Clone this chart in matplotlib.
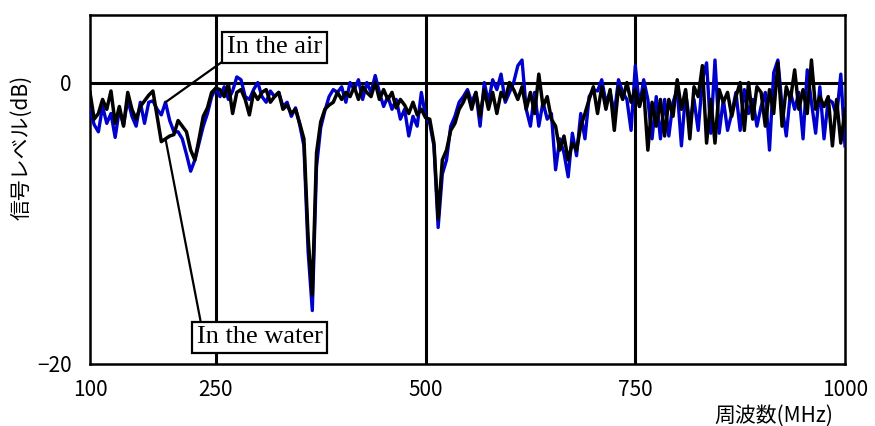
import numpy as np
import matplotlib
matplotlib.use("Agg")
import matplotlib.pyplot as plt

plt.rcParams['font.family'] = ['Noto Sans CJK JP', 'DejaVu Sans']

# Frequency sweep, 5 MHz step
freq = np.arange(100, 1001, 5)

# Signal level in air (dB)
level_air = [
    -1.9, -3.0, -3.5, -1.7, -2.9, -2.2, -3.9, -1.9, -3.0, -1.2,
    -2.4, -3.1, -1.4, -2.9, -1.4, -1.3, -1.9, -2.3, -1.4, -2.7,
    -3.5, -3.5, -4.0, -5.1, -6.3, -5.5, -4.3, -3.1, -2.2, -1.0,
    -0.4, -1.0, -0.3, -1.2, -0.6, 0.4, 0.2, -1.0, -1.2, -0.5,
    0.0, -1.0, -1.4, -0.6, -1.0, -0.7, -1.7, -1.4, -2.4, -1.8,
    -3.0, -4.5, -12.0, -16.2, -6.0, -3.2, -2.0, -1.0, -0.5, -0.7,
    -0.3, -1.4, 0.0, -0.5, 0.2, -1.2, 0.0, -0.7, 0.5, -0.7,
    -1.7, -1.0, -1.9, -1.2, -2.6, -1.9, -3.8, -2.4, -3.1, -0.7,
    -2.4, -2.9, -4.5, -10.3, -6.5, -5.5, -3.1, -2.4, -1.4, -1.0,
    -0.5, -1.4, -0.7, -3.1, 0.0, -1.4, 0.2, -0.5, 0.6, -1.4,
    -0.7, 0.0, 1.2, 1.6, -1.9, -3.1, -0.7, -3.1, -1.4, -2.6,
    -2.2, -6.2, -4.0, -5.0, -6.7, -3.6, -5.2, -2.2, -4.0, -1.0,
    -0.5, -0.6, 0.2, -1.4, -0.7, -2.2, 0.2, -0.7, -1.2, -3.4,
    1.2, -1.7, 0.2, -1.2, -4.0, -1.0, -4.0, -1.2, -3.8, -1.4,
    -0.5, -4.5, -0.7, -2.9, -1.2, -3.4, 0.2, 1.4, -3.6, 1.6,
    -3.6, -1.2, -3.4, -2.2, -0.7, -3.4, -0.5, -2.2, -1.2, -3.1,
    -1.7, -0.7, -4.8, 0.7, 1.6, -1.7, -3.8, -0.7, -1.9, -0.7,
    -4.0, 0.9, -1.4, -3.6, -0.3, -4.0, -1.2, -1.4, -2.4, 0.6,
    -4.5,
]

# Signal level in water (dB)
level_water = [
    -0.7, -2.6, -2.2, -1.2, -1.9, -0.6, -2.9, -1.7, -3.1, -0.7,
    -1.9, -2.6, -1.7, -1.3, -0.9, -0.6, -2.4, -4.2, -4.0, -3.8,
    -3.7, -2.7, -3.1, -3.5, -4.8, -5.5, -4.0, -2.4, -1.8, -0.7,
    -0.4, -0.5, -1.0, -0.1, -2.2, -0.7, -0.5, -1.2, -2.3, -0.7,
    -1.2, -0.7, -0.5, -1.4, -1.0, -0.7, -1.9, -1.6, -2.2, -1.9,
    -2.9, -4.0, -11.0, -15.1, -5.0, -2.8, -1.9, -1.6, -1.4, -0.7,
    -1.2, -0.7, -1.0, -0.3, -1.2, -0.3, -0.7, -1.0, 0.0, -1.2,
    -0.5, -1.2, -0.7, -1.8, -1.2, -1.6, -2.2, -1.4, -2.3, -1.9,
    -2.5, -2.6, -4.3, -9.7, -5.5, -4.8, -3.4, -2.9, -1.9, -1.4,
    -0.7, -1.9, -0.7, -2.4, -0.5, -1.9, -0.7, -2.2, -0.7, -1.2,
    0.0, -0.5, -1.2, -0.3, -1.9, -0.7, -2.2, 0.6, -1.7, -1.0,
    -2.6, -3.1, -4.8, -3.8, -5.5, -4.3, -4.8, -3.1, -2.2, -1.2,
    -0.3, -2.2, -0.3, -1.9, -0.5, -3.4, -0.3, -1.2, 0.0, -1.4,
    -0.5, -1.7, -0.5, -4.8, -1.4, -3.1, -1.2, -3.8, -1.2, -2.4,
    0.2, -1.9, -0.5, -4.0, -0.3, -1.0, 1.2, -4.3, -1.2, -4.3,
    -0.5, -1.4, -0.7, -2.4, -1.0, 0.0, -3.4, 0.0, -2.6, -0.3,
    -0.7, -3.1, -0.5, -2.2, 1.4, -3.1, -0.3, -1.2, 0.9, -1.9,
    -0.5, -2.2, 1.6, -1.9, -1.0, -1.7, -1.0, -4.5, -1.2, -4.3,
    -1.9,
]

xticks = [100, 250, 500, 750, 1000]
yticks = [-20, 0]

fig = plt.figure(figsize=(8.75, 4.26), dpi=100)
ax = fig.add_axes([90 / 875, 1 - 364 / 426, 755 / 875, 349 / 426])

ax.plot(freq, level_air, color='#0000cc', lw=2.4, zorder=3)
ax.plot(freq, level_water, color='black', lw=2.5, zorder=4)

# reference lines
for xv in [250, 500, 750]:
    ax.axvline(xv, color='black', lw=2.2, zorder=2)
ax.axhline(0, color='black', lw=2.2, zorder=2)

ax.set_xlim(100, 1000)
ax.set_ylim(-20, 4.8)
ax.set_xticks(xticks)
ax.set_yticks(yticks)
ax.tick_params(length=0, labelsize=15)
ax.tick_params(axis='x', pad=11)
ax.tick_params(axis='y', pad=13)
for s in ax.spines.values():
    s.set_linewidth(1.8)
    s.set_color('black')

fig.text(21 / 875, 1 - 147 / 426, '信号レベル(dB)', rotation=90,
         ha='center', va='center', fontsize=15)
fig.text(833 / 875, 1 - 416 / 426, '周波数(MHz)', ha='right', va='center',
         fontsize=15)

box = dict(boxstyle='square,pad=0.18', fc='white', ec='black', lw=1.6)
i_air = list(freq).index(190)
ax.annotate('In the air', xy=(freq[i_air], level_air[i_air]), xytext=(320, 2.5),
            ha='center', va='center', family='Liberation Serif', fontsize=19,
            bbox=box, zorder=6,
            arrowprops=dict(arrowstyle='-', color='black', lw=1.6,
                            relpos=(0, 0), shrinkA=0, shrinkB=0))
ax.annotate('In the water', xy=(freq[i_air], level_water[i_air]), xytext=(302, -18.1),
            ha='center', va='center', family='Liberation Serif', fontsize=19,
            bbox=box, zorder=6,
            arrowprops=dict(arrowstyle='-', color='black', lw=1.6,
                            relpos=(0.04, 1), shrinkA=0, shrinkB=0))

fig.savefig('out.png', dpi=100)
